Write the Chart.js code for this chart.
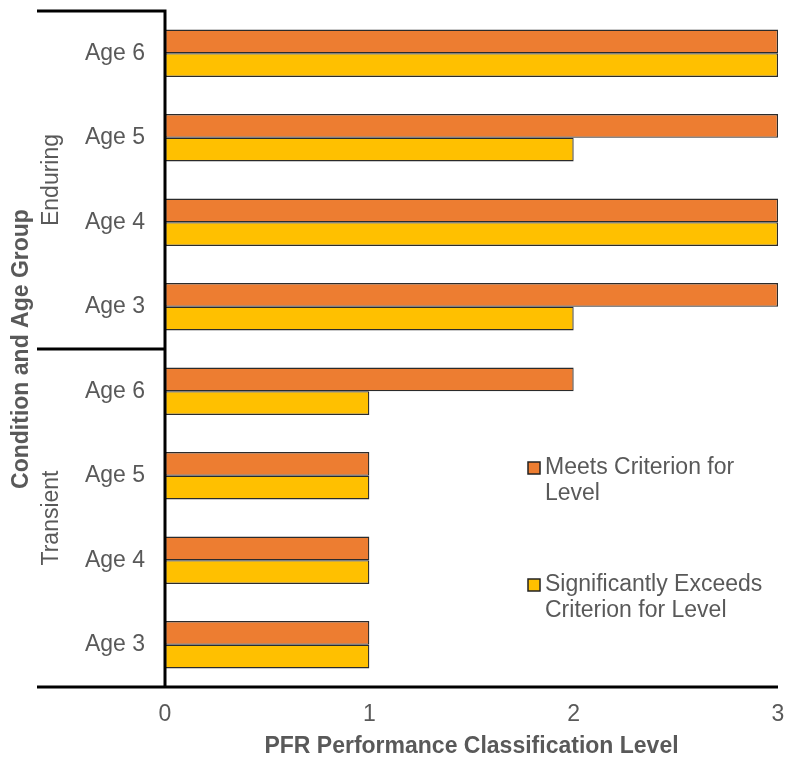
<!DOCTYPE html>
<html>
<head>
<meta charset="utf-8">
<script src="https://cdn.jsdelivr.net/npm/chart.js@4"></script>
<style>
  body { margin: 0; background: #fff; }
  #wrap { width: 786px; height: 758px; }
</style>
</head>
<body>
<div id="wrap"><canvas id="barChart" width="786" height="758"></canvas></div>
<script>
var ageLabels = ["Age 6", "Age 5", "Age 4", "Age 3", "Age 6", "Age 5", "Age 4", "Age 3"];
var groups = ["Enduring", "Transient"];
var meetsData = [3, 3, 3, 3, 2, 1, 1, 1];
var exceedsData = [3, 2, 3, 2, 1, 1, 1, 1];
var xTicks = [0, 1, 2, 3];

var grey = '#595959';
var fontFam = '"Liberation Sans", Arial, sans-serif';

var decorPlugin = {
  id: 'decor',
  afterDraw: function(chart) {
    var ctx = chart.ctx;
    var area = chart.chartArea;
    var yScale = chart.scales.y;
    var half = (yScale.getPixelForValue(3) + yScale.getPixelForValue(4)) / 2;

    ctx.save();
    ctx.strokeStyle = '#000';
    ctx.lineWidth = 3;
    ctx.beginPath();
    // top and middle separators
    ctx.moveTo(37, area.top); ctx.lineTo(area.left, area.top);
    ctx.moveTo(37, half); ctx.lineTo(area.left, half);
    // bottom axis line
    ctx.moveTo(37, area.bottom); ctx.lineTo(area.right, area.bottom);
    // vertical axis line
    ctx.moveTo(area.left, area.top - 1.5); ctx.lineTo(area.left, area.bottom);
    ctx.stroke();

    // group labels
    ctx.fillStyle = grey;
    ctx.font = '23px ' + fontFam;
    ctx.textAlign = 'center';
    ctx.textBaseline = 'middle';
    var mids = [(area.top + half) / 2, (half + area.bottom) / 2];
    groups.forEach(function(g, i) {
      ctx.save();
      ctx.translate(52, mids[i]);
      ctx.rotate(-Math.PI / 2);
      ctx.fillText(g, 0, 0);
      ctx.restore();
    });

    // y axis title
    ctx.save();
    ctx.font = 'bold 23px ' + fontFam;
    ctx.translate(22, (area.top + area.bottom) / 2);
    ctx.rotate(-Math.PI / 2);
    ctx.fillText('Condition and Age Group', 0, 0);
    ctx.restore();

    // legend
    var legendRows = [
      { lines: ['Meets Criterion for', 'Level'], y: 468 },
      { lines: ['Significantly Exceeds', 'Criterion for Level'], y: 585 }
    ];
    ctx.font = '23px ' + fontFam;
    ctx.textAlign = 'left';
    legendRows.forEach(function(row, i) {
      var ds = chart.data.datasets[i];
      ctx.fillStyle = ds.backgroundColor;
      ctx.fillRect(528, row.y - 6, 12, 12);
      ctx.lineWidth = 1.5;
      ctx.strokeStyle = '#222';
      ctx.strokeRect(528, row.y - 6, 12, 12);
      ctx.fillStyle = grey;
      row.lines.forEach(function(t, j) {
        ctx.fillText(t, 545, row.y + j * 26);
      });
    });
    ctx.restore();
  }
};

var ctxB = document.getElementById("barChart").getContext('2d');
var myBarChart = new Chart(ctxB, {
  type: 'bar',
  data: {
    labels: ageLabels,
    datasets: [{
        label: "Meets Criterion for Level",
        data: meetsData,
        backgroundColor: '#ED7D31',
        borderColor: '#2b2b2b',
        borderWidth: 1.3,
        borderSkipped: false
      },
      {
        label: "Significantly Exceeds Criterion for Level",
        data: exceedsData,
        backgroundColor: '#FFC000',
        borderColor: '#2b2b2b',
        borderWidth: 1.3,
        borderSkipped: false
      }
    ]
  },
  options: {
    indexAxis: 'y',
    responsive: false,
    animation: false,
    categoryPercentage: 0.56,
    barPercentage: 1,
    layout: { padding: { top: 11, right: 8, left: 0, bottom: 0 } },
    plugins: {
      legend: { display: false },
      tooltip: { enabled: false }
    },
    scales: {
      x: {
        min: 0,
        max: 3,
        afterBuildTicks: function(axis) {
          axis.ticks = xTicks.map(function(v) { return { value: v }; });
        },
        grid: { display: false, drawTicks: false },
        border: { display: false },
        ticks: { color: grey, font: { size: 23, family: fontFam }, padding: 14 },
        title: {
          display: true,
          text: 'PFR Performance Classification Level',
          color: grey,
          font: { size: 23, weight: 'bold', family: fontFam },
          padding: { top: 0, bottom: -2 }
        },
        afterFit: function(axis) {
          axis.height = 71;
          axis.paddingLeft = 0;
          axis.paddingRight = 0;
        }
      },
      y: {
        grid: { display: false, drawTicks: false },
        border: { display: false },
        ticks: { color: grey, font: { size: 23, family: fontFam }, padding: 20 },
        afterFit: function(axis) {
          axis.width = 165;
          axis.paddingTop = 0;
          axis.paddingBottom = 0;
        }
      }
    }
  },
  plugins: [decorPlugin]
});
</script>
</body>
</html>
